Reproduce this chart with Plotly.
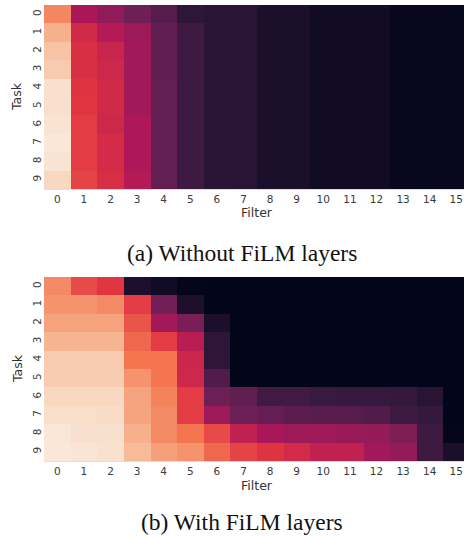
import plotly.graph_objects as go

# Filter activation per task (rows: task 0..9, columns: filter 0..15)
filters = list(range(16))
tasks = list(range(10))

without_film = [
    [0.75, 0.42, 0.36, 0.28, 0.22, 0.12, 0.105, 0.11, 0.07, 0.068, 0.04, 0.04, 0.04, 0.014, 0.014, 0.012],
    [0.85, 0.525, 0.445, 0.39, 0.25, 0.165, 0.112, 0.11, 0.07, 0.068, 0.04, 0.04, 0.04, 0.014, 0.014, 0.012],
    [0.895, 0.55, 0.50, 0.40, 0.25, 0.165, 0.112, 0.11, 0.07, 0.068, 0.04, 0.04, 0.04, 0.014, 0.014, 0.012],
    [0.915, 0.55, 0.515, 0.40, 0.25, 0.165, 0.112, 0.11, 0.07, 0.068, 0.04, 0.04, 0.04, 0.014, 0.014, 0.012],
    [0.97, 0.57, 0.525, 0.40, 0.255, 0.165, 0.112, 0.11, 0.07, 0.068, 0.04, 0.04, 0.04, 0.014, 0.014, 0.012],
    [0.97, 0.575, 0.525, 0.40, 0.255, 0.165, 0.112, 0.11, 0.07, 0.068, 0.04, 0.04, 0.04, 0.014, 0.014, 0.012],
    [0.98, 0.59, 0.515, 0.43, 0.255, 0.165, 0.112, 0.11, 0.07, 0.068, 0.04, 0.04, 0.04, 0.014, 0.014, 0.012],
    [0.99, 0.59, 0.535, 0.43, 0.255, 0.165, 0.112, 0.11, 0.07, 0.068, 0.04, 0.04, 0.04, 0.014, 0.014, 0.012],
    [0.98, 0.59, 0.535, 0.43, 0.255, 0.165, 0.112, 0.11, 0.07, 0.068, 0.04, 0.04, 0.04, 0.014, 0.014, 0.012],
    [0.95, 0.607, 0.545, 0.445, 0.255, 0.165, 0.112, 0.11, 0.07, 0.068, 0.04, 0.04, 0.04, 0.014, 0.014, 0.012],
]

with_film = [
    [0.76, 0.62, 0.575, 0.077, 0.043, 0.005, 0.0, 0.0, 0.0, 0.0, 0.0, 0.0, 0.0, 0.0, 0.0, 0.0],
    [0.78, 0.78, 0.76, 0.59, 0.29, 0.077, 0.0, 0.0, 0.0, 0.0, 0.0, 0.0, 0.0, 0.0, 0.0, 0.0],
    [0.815, 0.815, 0.815, 0.643, 0.406, 0.31, 0.069, 0.0, 0.0, 0.0, 0.0, 0.0, 0.0, 0.0, 0.0, 0.0],
    [0.857, 0.857, 0.857, 0.684, 0.59, 0.46, 0.123, 0.0, 0.0, 0.0, 0.0, 0.0, 0.0, 0.0, 0.0, 0.0],
    [0.915, 0.915, 0.915, 0.714, 0.714, 0.51, 0.12, 0.0, 0.0, 0.0, 0.0, 0.0, 0.0, 0.0, 0.0, 0.0],
    [0.92, 0.92, 0.92, 0.78, 0.714, 0.517, 0.213, 0.0, 0.0, 0.0, 0.0, 0.0, 0.0, 0.0, 0.0, 0.0],
    [0.95, 0.95, 0.95, 0.82, 0.742, 0.59, 0.276, 0.25, 0.17, 0.17, 0.15, 0.145, 0.145, 0.14, 0.11, 0.0],
    [0.966, 0.966, 0.96, 0.82, 0.76, 0.59, 0.39, 0.276, 0.26, 0.232, 0.23, 0.225, 0.21, 0.165, 0.14, 0.0],
    [0.987, 0.97, 0.97, 0.85, 0.76, 0.714, 0.62, 0.48, 0.42, 0.39, 0.39, 0.38, 0.37, 0.32, 0.16, 0.005],
    [0.99, 0.985, 0.975, 0.875, 0.81, 0.78, 0.684, 0.607, 0.57, 0.53, 0.48, 0.48, 0.40, 0.37, 0.165, 0.069],
]

captions = ["(a) Without FiLM layers", "(b) With FiLM layers"]

# seaborn "rocket" colour map
rocket = [
    [0.000, "#03051a"],
    [1 / 7, "#35193e"],
    [2 / 7, "#701f57"],
    [3 / 7, "#ad1759"],
    [4 / 7, "#e13342"],
    [5 / 7, "#f37651"],
    [6 / 7, "#f6b48f"],
    [1.000, "#faebdd"],
]

W, H = 464, 537
x0 = 44           # left edge of heatmaps (px)
cell_w = 26.6     # px per filter column
panels = [(5, 189), (277, 461)]   # top / bottom pixel rows of each heatmap
caption_y = [253, 522]

tick_font = dict(family="DejaVu Sans, sans-serif", size=10.5, color="#3a3a3a")
label_font = dict(family="DejaVu Sans, sans-serif", size=12.5, color="#333333")
cap_font = dict(family="Liberation Serif, Times New Roman, serif", size=23.5, color="#111111")

fig = go.Figure()
x_hi = -0.5 + (W - x0) / cell_w   # visible part of the last column

for i, (z, (top, bot)) in enumerate(zip([without_film, with_film], panels)):
    xa = "x" if i == 0 else "x2"
    ya = "y" if i == 0 else "y2"
    fig.add_trace(go.Heatmap(
        z=z, x=filters, y=tasks, colorscale=rocket, zmin=0, zmax=1,
        showscale=False, xaxis=xa, yaxis=ya, hoverongaps=False,
    ))
    ax = dict(
        domain=[x0 / W, 1.0], range=[-0.5, x_hi], tickmode="array",
        tickvals=filters, ticktext=[str(v) for v in filters], ticks="",
        tickfont=tick_font, showgrid=False, zeroline=False,
        showline=True, linecolor="#dedee6", linewidth=1,
        anchor=ya, fixedrange=True,
    )
    ay = dict(
        domain=[1 - bot / H, 1 - top / H], range=[9.5, -0.5], tickmode="array",
        tickvals=tasks, ticktext=[str(v) for v in tasks], ticks="", tickangle=-90,
        tickfont=tick_font, showgrid=False, zeroline=False, showline=False,
        anchor=xa, fixedrange=True,
    )
    if i == 0:
        fig.update_layout(xaxis=ax, yaxis=ay)
    else:
        fig.update_layout(xaxis2=ax, yaxis2=ay)

    mid = (top + bot) / 2
    fig.add_annotation(text="Filter", xref="paper", yref="paper",
                       x=(x0 + 470) / 2 / W, y=1 - (bot + 24) / H,
                       showarrow=False, font=label_font, xanchor="center", yanchor="middle")
    fig.add_annotation(text="Task", xref="paper", yref="paper",
                       x=17 / W, y=1 - mid / H, textangle=-90,
                       showarrow=False, font=label_font, xanchor="center", yanchor="middle")
    fig.add_annotation(text=captions[i], xref="paper", yref="paper",
                       x=241.5 / W, y=1 - caption_y[i] / H, borderpad=0,
                       showarrow=False, font=cap_font, xanchor="center", yanchor="middle")

fig.update_layout(
    width=W, height=H, margin=dict(l=0, r=0, t=0, b=0),
    paper_bgcolor="white", plot_bgcolor="white", showlegend=False,
)

fig.write_html("out.html")
